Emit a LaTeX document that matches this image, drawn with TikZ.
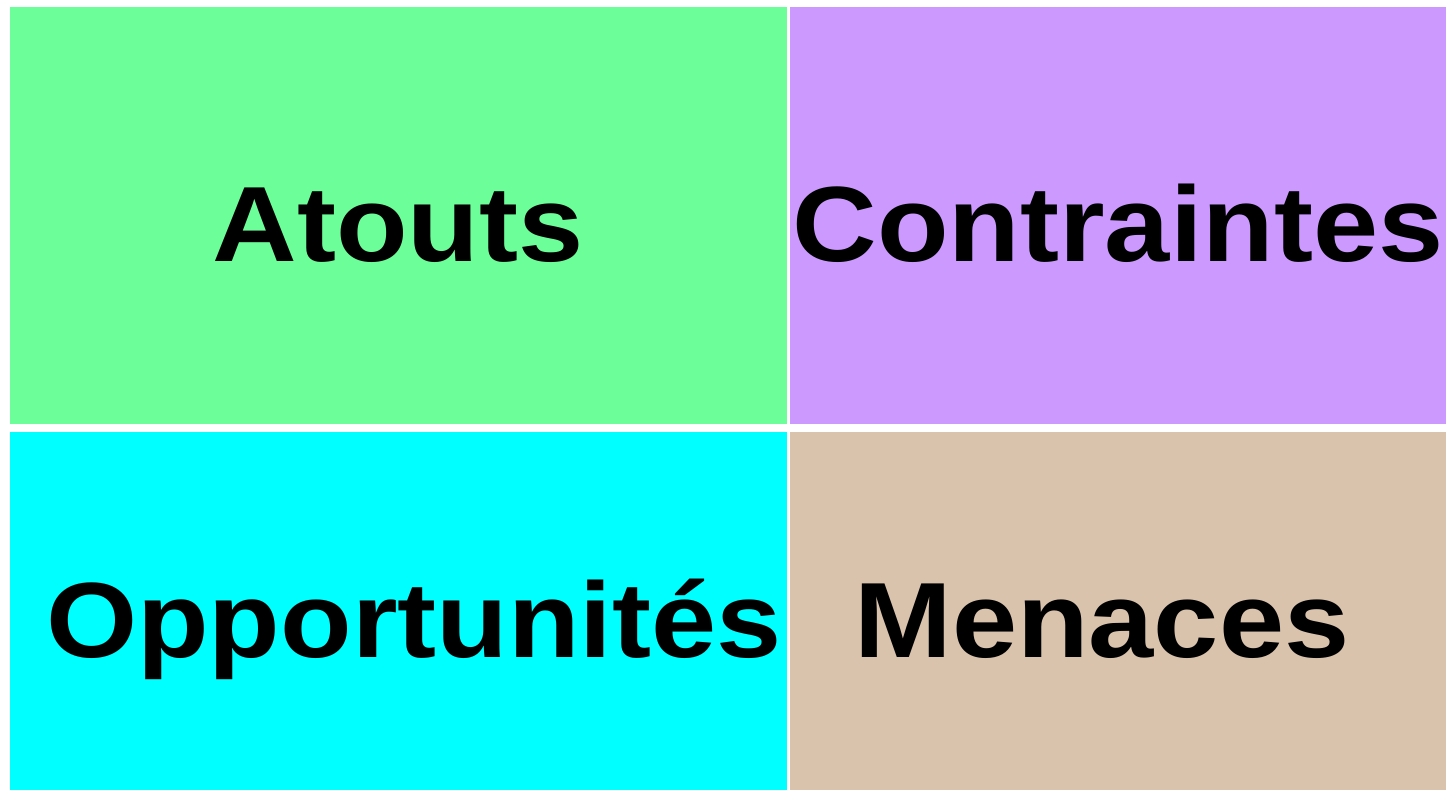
\documentclass[tikz,border=0pt]{standalone}
\usepackage{fontspec}
\setmainfont{Liberation Sans}
\usepackage{tikz}
\definecolor{atoutcol}{RGB}{108,255,153}
\definecolor{contcol}{RGB}{204,153,255}
\definecolor{oppcol}{RGB}{0,255,255}
\definecolor{mencol}{RGB}{217,195,173}
\begin{document}
\begin{tikzpicture}[x=1pt,y=1pt,
		box node/.style={rectangle,inner sep=0pt,anchor=north west},
		word node/.style={inner sep=0pt,anchor=base,transform shape,xscale=1.095,font=\fontsize{107}{110}\bfseries\selectfont}]
		% cadre
		\useasboundingbox[fill=white] (0,0) rectangle (1448,792);
		
		\node[box node,fill=atoutcol,minimum width=777pt,minimum height=417pt] (atouts) at (10,785) {};
		\node[box node,fill=contcol,minimum width=656pt,minimum height=417pt] (contraintes) at (790,785) {};
		\node[box node,fill=oppcol,minimum width=777pt,minimum height=358pt] (opport) at (10,360) {};
		\node[box node,fill=mencol,minimum width=656pt,minimum height=358pt] (menaces) at (790,360) {};
		
		\node[word node] (t-atouts) at (398,530) {Atouts};
		\node[word node] (t-cont) at (1118,530) {Contraintes};
		\node[word node] (t-opp) at (414,134) {Opportunités};
		\node[word node] (t-men) at (1102,134) {Menaces};
		\end{tikzpicture}
\end{document}
